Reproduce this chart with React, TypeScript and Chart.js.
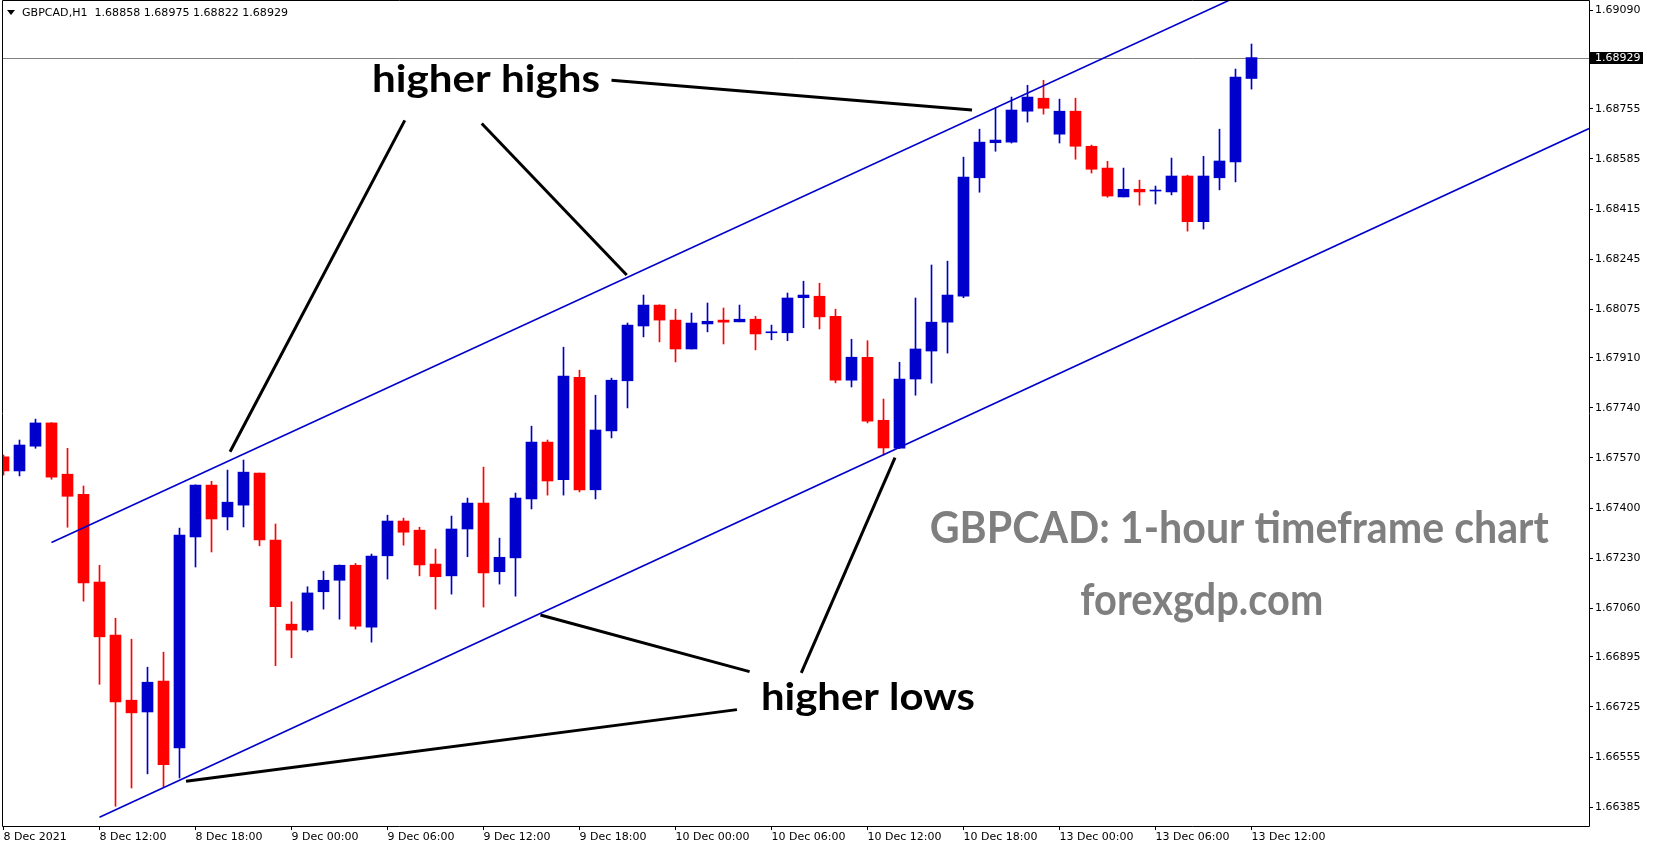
import React, { useEffect, useRef } from 'react';
import { Chart, registerables } from 'chart.js';

Chart.register(...registerables);

// ---------- data ----------
const symbolName = 'GBPCAD,H1';

const timeTickIndex = [0, 6, 12, 18, 24, 30, 36, 42, 48, 54, 60, 66, 72, 78];
const timeTickLabels = [
  '8 Dec 2021', '8 Dec 12:00', '8 Dec 18:00', '9 Dec 00:00', '9 Dec 06:00',
  '9 Dec 12:00', '9 Dec 18:00', '10 Dec 00:00', '10 Dec 06:00', '10 Dec 12:00',
  '10 Dec 18:00', '13 Dec 00:00', '13 Dec 06:00', '13 Dec 12:00',
];

const priceTicks = [
  1.69090, 1.68755, 1.68585, 1.68415, 1.68245, 1.68075, 1.67910, 1.67740,
  1.67570, 1.67400, 1.67230, 1.67060, 1.66895, 1.66725, 1.66555, 1.66385,
];

const opens = [
  1.67574, 1.67526, 1.67610, 1.67689, 1.67515, 1.67447, 1.67149, 1.66969, 1.66748, 1.66708,
  1.66813, 1.66586, 1.67302, 1.67478, 1.67370, 1.67410, 1.67519, 1.67291, 1.67006, 1.66986,
  1.67116, 1.67155, 1.67206, 1.66996, 1.67238, 1.67356, 1.67325, 1.67210, 1.67170, 1.67329,
  1.67417, 1.67184, 1.67231, 1.67431, 1.67624, 1.67496, 1.67844, 1.67462, 1.67662, 1.67832,
  1.68018, 1.68089, 1.68038, 1.67940, 1.68025, 1.68038, 1.68032, 1.68041, 1.67995, 1.67995,
  1.68114, 1.68119, 1.68051, 1.67834, 1.67912, 1.67698, 1.67603, 1.67838, 1.67933, 1.68031,
  1.68119, 1.68521, 1.68640, 1.68642, 1.68747, 1.68791, 1.68669, 1.68747, 1.68628, 1.68554,
  1.68456, 1.68482, 1.68476, 1.68473, 1.68527, 1.68372, 1.68521, 1.68575, 1.68858,
];

const highs = [
  1.67580, 1.67631, 1.67702, 1.67690, 1.67603, 1.67475, 1.67206, 1.67026, 1.66955, 1.66860,
  1.66911, 1.67332, 1.67479, 1.67491, 1.67529, 1.67563, 1.67519, 1.67346, 1.67082, 1.67133,
  1.67186, 1.67207, 1.67212, 1.67244, 1.67376, 1.67366, 1.67335, 1.67261, 1.67373, 1.67434,
  1.67539, 1.67298, 1.67451, 1.67678, 1.67631, 1.67946, 1.67868, 1.67783, 1.67841, 1.68028,
  1.68123, 1.68090, 1.68075, 1.68062, 1.68096, 1.68079, 1.68089, 1.68051, 1.68021, 1.68130,
  1.68170, 1.68163, 1.68075, 1.67973, 1.67968, 1.67770, 1.67895, 1.68113, 1.68225, 1.68238,
  1.68591, 1.68686, 1.68757, 1.68795, 1.68835, 1.68852, 1.68788, 1.68791, 1.68632, 1.68577,
  1.68554, 1.68513, 1.68493, 1.68588, 1.68530, 1.68594, 1.68686, 1.68890, 1.68975,
];

const lows = [
  1.67512, 1.67509, 1.67603, 1.67498, 1.67335, 1.67084, 1.66802, 1.66388, 1.66450, 1.66498,
  1.66454, 1.66484, 1.67200, 1.67251, 1.67326, 1.67336, 1.67272, 1.66865, 1.66892, 1.66980,
  1.67057, 1.67023, 1.66989, 1.66945, 1.67159, 1.67274, 1.67170, 1.67057, 1.67108, 1.67235,
  1.67064, 1.67142, 1.67101, 1.67397, 1.67444, 1.67444, 1.67455, 1.67431, 1.67638, 1.67740,
  1.67981, 1.67964, 1.67896, 1.67940, 1.67998, 1.67957, 1.68032, 1.67937, 1.67971, 1.67968,
  1.68012, 1.68008, 1.67825, 1.67811, 1.67689, 1.67580, 1.67602, 1.67783, 1.67824, 1.67926,
  1.68114, 1.68472, 1.68611, 1.68639, 1.68710, 1.68737, 1.68639, 1.68584, 1.68537, 1.68455,
  1.68456, 1.68428, 1.68432, 1.68463, 1.68340, 1.68347, 1.68480, 1.68507, 1.68822,
];

const closes = [
  1.67526, 1.67614, 1.67689, 1.67505, 1.67440, 1.67146, 1.66963, 1.66742, 1.66705, 1.66809,
  1.66529, 1.67308, 1.67478, 1.67363, 1.67420, 1.67522, 1.67292, 1.67065, 1.66986, 1.67112,
  1.67155, 1.67206, 1.66999, 1.67237, 1.67356, 1.67318, 1.67207, 1.67167, 1.67329, 1.67417,
  1.67180, 1.67233, 1.67434, 1.67624, 1.67492, 1.67848, 1.67462, 1.67665, 1.67834, 1.68021,
  1.68089, 1.68038, 1.67940, 1.68028, 1.68034, 1.68031, 1.68041, 1.67991, 1.67998, 1.68113,
  1.68123, 1.68049, 1.67834, 1.67912, 1.67695, 1.67604, 1.67838, 1.67940, 1.68031, 1.68123,
  1.68523, 1.68642, 1.68649, 1.68751, 1.68795, 1.68757, 1.68747, 1.68628, 1.68550, 1.68459,
  1.68482, 1.68473, 1.68479, 1.68527, 1.68372, 1.68527, 1.68578, 1.68863, 1.68929,
];

// channel trend lines (bar index, price)
const upperChannel = [
  { x: 3, y: 1.67283 },
  { x: 99.1, y: 1.69686 },
];
const lowerChannel = [
  { x: 6, y: 1.66351 },
  { x: 99.1, y: 1.68688 },
];

// black pointer lines (bar index, price)
const pointerLines = [
  [38.0, 1.68852, 60.53, 1.68751],
  [25.08, 1.68716, 14.16, 1.67591],
  [29.89, 1.68705, 38.95, 1.68191],
  [33.56, 1.67037, 46.63, 1.66845],
  [11.41, 1.66473, 45.84, 1.66716],
  [55.72, 1.67571, 49.86, 1.66841],
];

// text labels placed at (bar index, price of baseline)
const noteTexts = [
  { text: 'higher highs', x: 23.03, y: 1.68812, w: 228, size: 38, color: '#000000' },
  { text: 'higher lows', x: 47.34, y: 1.66716, w: 214, size: 38, color: '#000000' },
  { text: 'GBPCAD: 1-hour timeframe chart', x: 57.89, y: 1.67281, w: 619, size: 43, color: '#7f7f7f' },
  { text: 'forexgdp.com', x: 67.3, y: 1.67037, w: 243, size: 43, color: '#7f7f7f' },
];

// ---------- styling ----------
const BULL = '#0000CC';
const BEAR = '#FF0000';
const CHANNEL = '#0000CD';
const AXIS_FONT = 'DejaVu Sans';

const X_MIN = -0.09375;
const X_MAX = 99.09375;
const Y_MIN = 1.66321;
const Y_MAX = 1.69121;

function fitText(ctx: CanvasRenderingContext2D, text: string, x: number, y: number, w: number) {
  const m = ctx.measureText(text).width;
  const sx = m > 0 ? w / m : 1;
  ctx.save();
  ctx.translate(x, y);
  ctx.scale(sx, 1);
  ctx.fillText(text, 0, 0);
  ctx.restore();
}

function zeroPadding(scale: any) {
  scale.paddingTop = 0;
  scale.paddingBottom = 0;
  scale.paddingLeft = 0;
  scale.paddingRight = 0;
}

const overlayPlugin = {
  id: 'mtOverlay',
  beforeDraw(chart: any) {
    const { ctx, width, height } = chart;
    ctx.save();
    ctx.fillStyle = '#ffffff';
    ctx.fillRect(0, 0, width, height);
    ctx.restore();
  },
  beforeDatasetsDraw(chart: any) {
    const { ctx, chartArea, scales } = chart;
    const last = closes[closes.length - 1];
    const py = Math.round(scales.y.getPixelForValue(last)) + 0.5;
    ctx.save();
    ctx.strokeStyle = '#808080';
    ctx.lineWidth = 1;
    ctx.beginPath();
    ctx.moveTo(chartArea.left, py);
    ctx.lineTo(chartArea.right, py);
    ctx.stroke();
    ctx.restore();
  },
  afterDatasetsDraw(chart: any) {
    const { ctx, chartArea, scales } = chart;
    const xs = scales.x;
    const ys = scales.y;
    ctx.save();
    ctx.beginPath();
    ctx.rect(chartArea.left, chartArea.top, chartArea.right - chartArea.left, chartArea.bottom - chartArea.top);
    ctx.clip();
    ctx.strokeStyle = '#000000';
    ctx.lineWidth = 3;
    ctx.lineCap = 'butt';
    for (const s of pointerLines) {
      ctx.beginPath();
      ctx.moveTo(xs.getPixelForValue(s[0]), ys.getPixelForValue(s[1]));
      ctx.lineTo(xs.getPixelForValue(s[2]), ys.getPixelForValue(s[3]));
      ctx.stroke();
    }
    ctx.textBaseline = 'alphabetic';
    ctx.textAlign = 'left';
    for (const t of noteTexts) {
      ctx.font = `bold ${t.size}px Lato`;
      ctx.fillStyle = t.color;
      fitText(ctx, t.text, xs.getPixelForValue(t.x), ys.getPixelForValue(t.y), t.w);
    }
    ctx.restore();
  },
  afterDraw(chart: any) {
    const { ctx, chartArea, scales } = chart;
    ctx.save();
    // frame
    ctx.strokeStyle = '#000000';
    ctx.lineWidth = 1;
    ctx.beginPath();
    ctx.moveTo(chartArea.left + 0.5, chartArea.top - 0.5);
    ctx.lineTo(chartArea.right + 0.5, chartArea.top - 0.5);
    ctx.lineTo(chartArea.right + 0.5, chartArea.bottom + 0.5);
    ctx.lineTo(chartArea.left + 0.5, chartArea.bottom + 0.5);
    ctx.closePath();
    ctx.stroke();

    // current price label
    const last = closes[closes.length - 1];
    const py = Math.round(scales.y.getPixelForValue(last));
    ctx.fillStyle = '#000000';
    ctx.fillRect(chartArea.right + 1, py - 6, 53, 12);
    ctx.fillStyle = '#ffffff';
    ctx.font = `11px ${AXIS_FONT}`;
    ctx.textBaseline = 'middle';
    ctx.textAlign = 'left';
    ctx.fillText(last.toFixed(5), chartArea.right + 6, py + 0.5);

    // header
    ctx.fillStyle = '#000000';
    ctx.beginPath();
    ctx.moveTo(7, 10);
    ctx.lineTo(15, 10);
    ctx.lineTo(11, 15);
    ctx.closePath();
    ctx.fill();
    const n = closes.length - 1;
    const header = `${symbolName}  ${opens[n].toFixed(5)} ${highs[n].toFixed(5)} ${lows[n].toFixed(5)} ${closes[n].toFixed(5)}`;
    ctx.font = `11px ${AXIS_FONT}`;
    ctx.textBaseline = 'middle';
    fitText(ctx, header, 22, 13, 266);
    ctx.restore();
  },
};

export default function App() {
  const canvasRef = useRef<HTMLCanvasElement | null>(null);

  useEffect(() => {
    const canvas = canvasRef.current;
    if (!canvas) return;
    const idx = opens.map((_, i) => i);
    const colors = idx.map((i) => (closes[i] >= opens[i] ? BULL : BEAR));

    const chart = new Chart(canvas, {
      type: 'bar',
      data: {
        datasets: [
          {
            type: 'line',
            data: upperChannel,
            borderColor: CHANNEL,
            borderWidth: 1.6,
            pointRadius: 0,
            fill: false,
            tension: 0,
          } as any,
          {
            type: 'line',
            data: lowerChannel,
            borderColor: CHANNEL,
            borderWidth: 1.6,
            pointRadius: 0,
            fill: false,
            tension: 0,
          } as any,
          {
            type: 'bar',
            data: idx.map((i) => ({ x: i, y: [opens[i], closes[i]] })),
            backgroundColor: colors,
            borderWidth: 0,
            barThickness: 11,
            minBarLength: 1,
            grouped: false,
          } as any,
          {
            type: 'bar',
            data: idx.map((i) => ({ x: i, y: [lows[i], highs[i]] })),
            backgroundColor: colors,
            borderWidth: 0,
            barThickness: 1,
            minBarLength: 1,
            grouped: false,
          } as any,
        ],
      },
      options: {
        animation: false,
        responsive: false,
        devicePixelRatio: 1,
        events: [],
        layout: { padding: { left: 2, top: 1, right: 0, bottom: 0 } },
        plugins: {
          legend: { display: false },
          tooltip: { enabled: false },
          title: { display: false },
        },
        scales: {
          x: {
            type: 'linear',
            min: X_MIN,
            max: X_MAX,
            offset: false,
            grid: {
              display: true,
              offset: false,
              drawOnChartArea: false,
              drawTicks: true,
              tickLength: 4,
              color: '#000000',
            },
            border: { display: false },
            afterBuildTicks: (scale: any) => {
              scale.ticks = timeTickIndex.map((v) => ({ value: v }));
            },
            afterFit: (scale: any) => {
              scale.height = 24;
              zeroPadding(scale);
            },
            ticks: {
              autoSkip: false,
              maxRotation: 0,
              minRotation: 0,
              align: 'start',
              padding: 1,
              color: '#000000',
              font: { family: AXIS_FONT, size: 11 },
              callback: (value: any) => {
                const k = timeTickIndex.indexOf(Number(value));
                return k >= 0 ? timeTickLabels[k] : '';
              },
            },
          },
          y: {
            type: 'linear',
            position: 'right',
            min: Y_MIN,
            max: Y_MAX,
            grid: {
              display: true,
              drawOnChartArea: false,
              drawTicks: true,
              tickLength: 4,
              color: '#000000',
            },
            border: { display: false },
            afterBuildTicks: (scale: any) => {
              scale.ticks = priceTicks.map((v) => ({ value: v }));
            },
            afterFit: (scale: any) => {
              scale.width = 64;
              zeroPadding(scale);
            },
            ticks: {
              autoSkip: false,
              padding: 2,
              color: '#000000',
              font: { family: AXIS_FONT, size: 11 },
              callback: (value: any) => Number(value).toFixed(5),
            },
          },
        },
      } as any,
      plugins: [overlayPlugin],
    });

    return () => {
      chart.destroy();
    };
  }, []);

  return (
    <div style={{ position: 'fixed', left: 0, top: 0, width: 1653, height: 850, background: '#fff' }}>
      <canvas ref={canvasRef} width={1653} height={850} style={{ display: 'block', width: 1653, height: 850 }} />
    </div>
  );
}
